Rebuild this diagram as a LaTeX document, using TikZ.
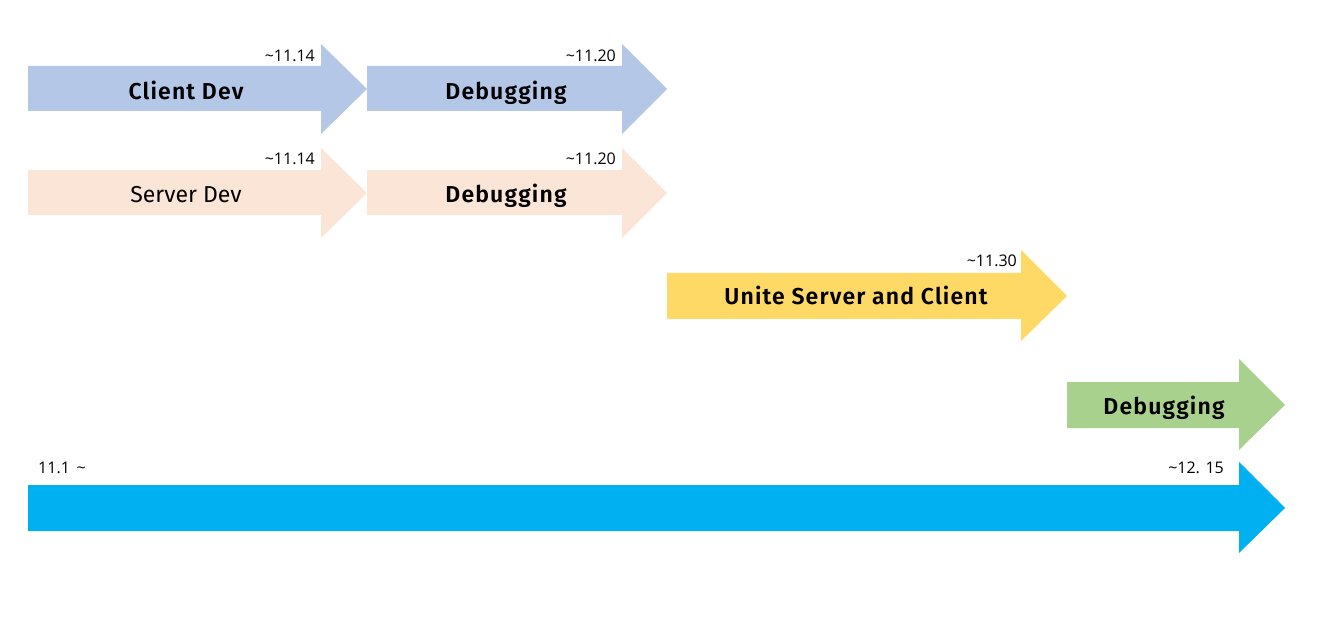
\documentclass[tikz,border=0pt]{standalone}
\usepackage{fontspec}
\setmainfont{Fira Sans}
\newfontfamily\taskfont{Fira Sans SemiBold}[LetterSpace=5]
\newfontfamily\datefont{Open Sans}
\definecolor{clientblue}{HTML}{B4C7E7}
\definecolor{serverpeach}{HTML}{FBE5D6}
\definecolor{uniteyellow}{HTML}{FFD966}
\definecolor{debuggreen}{HTML}{A9D18E}
\definecolor{timeblue}{HTML}{00B0F0}

\begin{document}
\begin{tikzpicture}[x=1pt,y=-1pt,
		task/.style={font=\taskfont\fontsize{23}{27}\selectfont,anchor=base},
		plaintask/.style={font=\fontsize{23}{27}\selectfont,anchor=base},
		date/.style={font=\datefont\fontsize{16}{18}\selectfont,anchor=base east,inner sep=0pt}]
			\useasboundingbox (0,0) rectangle (1328,628);

			% first row : client
			\fill[clientblue](28,66) -- (321,66) -- (321,44) -- (367,89) -- (321,134) -- (321,111) -- (28,111) -- cycle;
			\fill[clientblue](367,66) -- (622,66) -- (622,44) -- (667,89) -- (622,134) -- (622,111) -- (367,111) -- cycle;
			\node[task] (clientdev) at (186,100){Client Dev};
			\node[task] (clientdebug) at (506,100){Debugging};
			\node[date] (clientdate1) at (315,61.5){\textasciitilde11.14};
			\node[date] (clientdate2) at (616,61.5){\textasciitilde11.20};

			% second row : server
			\fill[serverpeach](28,170) -- (321,170) -- (321,148) -- (367,193) -- (321,238) -- (321,215) -- (28,215) -- cycle;
			\fill[serverpeach](367,170) -- (622,170) -- (622,148) -- (667,193) -- (622,238) -- (622,215) -- (367,215) -- cycle;
			\node[plaintask] (serverdev) at (186,203){Server Dev};
			\node[task] (serverdebug) at (506,203){Debugging};
			\node[date] (serverdate1) at (315,165){\textasciitilde11.14};
			\node[date] (serverdate2) at (616,165){\textasciitilde11.20};

			% unite
			\fill[uniteyellow](667,273) -- (1021,273) -- (1021,250) -- (1067,296) -- (1021,341) -- (1021,319) -- (667,319) -- cycle;
			\node[task] (unite) at (856,305){Unite Server and Client};
			\node[date] (unitedate) at (1017,266.5){\textasciitilde11.30};

			% final debugging
			\fill[debuggreen](1067,382) -- (1239,382) -- (1239,359) -- (1285,405) -- (1239,450) -- (1239,428) -- (1067,428) -- cycle;
			\node[task] (finaldebug) at (1164,414){Debugging};

			% whole time line
			\fill[timeblue](28,485) -- (1239,485) -- (1239,462) -- (1285,508) -- (1239,553) -- (1239,531) -- (28,531) -- cycle;
			\node[date,anchor=base west] (startdate) at (38,473){11.1 \,\textasciitilde};
			\node[date] (enddate) at (1224,473){\textasciitilde12. 15};
		\end{tikzpicture}
\end{document}
